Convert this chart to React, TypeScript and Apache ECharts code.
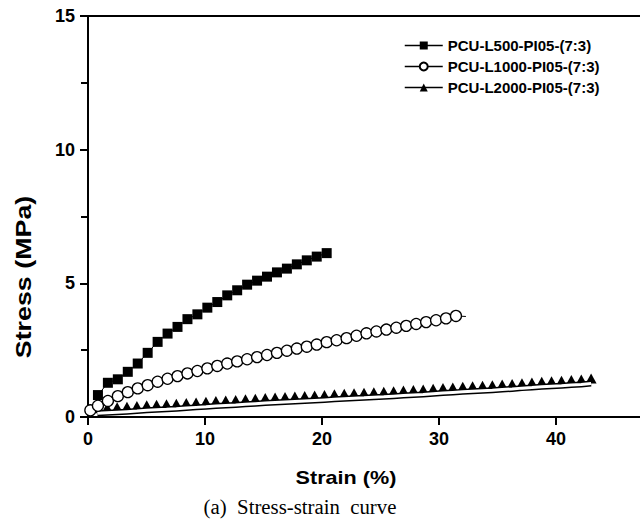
import React, { useEffect, useRef } from "react";
import * as echarts from "echarts";

const seriesNames = ["PCU-L500-PI05-(7:3)", "PCU-L1000-PI05-(7:3)", "PCU-L2000-PI05-(7:3)"];

const strainL500 = [0.85, 1.7, 2.55, 3.4, 4.25, 5.1, 5.95, 6.8, 7.65, 8.5, 9.35, 10.2, 11.05, 11.9, 12.75, 13.6, 14.45, 15.3, 16.15, 17.0, 17.85, 18.7, 19.55, 20.4];
const stressL500 = [0.82, 1.28, 1.41, 1.69, 2.0, 2.4, 2.81, 3.12, 3.37, 3.66, 3.84, 4.09, 4.3, 4.55, 4.74, 4.95, 5.1, 5.25, 5.41, 5.55, 5.71, 5.86, 6.0, 6.13];

const strainL1000 = [0.2, 0.85, 1.7, 2.55, 3.4, 4.25, 5.1, 5.95, 6.8, 7.65, 8.5, 9.35, 10.2, 11.05, 11.9, 12.75, 13.6, 14.45, 15.3, 16.15, 17.0, 17.85, 18.7, 19.55, 20.4, 21.25, 22.1, 22.95, 23.8, 24.65, 25.5, 26.35, 27.2, 28.05, 28.9, 29.75, 30.6, 31.45, 32.3];
const stressL1000 = [0.25, 0.42, 0.6, 0.78, 0.93, 1.07, 1.19, 1.32, 1.43, 1.53, 1.63, 1.72, 1.82, 1.91, 2.0, 2.08, 2.16, 2.24, 2.32, 2.4, 2.48, 2.56, 2.63, 2.71, 2.8, 2.87, 2.95, 3.04, 3.13, 3.2, 3.27, 3.34, 3.41, 3.48, 3.55, 3.62, 3.69, 3.78, 3.76];

const strainL2000 = [0.8, 1.64, 2.49, 3.33, 4.18, 5.02, 5.86, 6.71, 7.55, 8.4, 9.24, 10.08, 10.93, 11.77, 12.62, 13.46, 14.3, 15.15, 15.99, 16.84, 17.68, 18.52, 19.37, 20.21, 21.06, 21.9, 22.74, 23.59, 24.43, 25.28, 26.12, 26.96, 27.81, 28.65, 29.5, 30.34, 31.18, 32.03, 32.87, 33.72, 34.56, 35.4, 36.25, 37.09, 37.94, 38.78, 39.62, 40.47, 41.31, 42.16, 43.0];
const stressL2000 = [0.14, 0.16, 0.18, 0.2, 0.22, 0.25, 0.27, 0.29, 0.31, 0.34, 0.36, 0.38, 0.41, 0.43, 0.45, 0.48, 0.5, 0.52, 0.54, 0.56, 0.58, 0.6, 0.62, 0.64, 0.66, 0.68, 0.7, 0.72, 0.74, 0.76, 0.78, 0.8, 0.82, 0.84, 0.87, 0.9, 0.92, 0.94, 0.96, 0.98, 1.0, 1.03, 1.05, 1.08, 1.1, 1.13, 1.15, 1.17, 1.2, 1.22, 1.25];

const xTitle = "Strain (%)";
const yTitle = "Stress (MPa)";
const caption = "(a)  Stress-strain  curve";

const SANS = "Arial, 'Liberation Sans', sans-serif";
const SERIF = "'Times New Roman', 'Liberation Serif', serif";

const zip = (xs: number[], ys: number[]) => xs.map((x, i) => [x, ys[i]]);

export default function App() {
  const ref = useRef<HTMLDivElement>(null);
  useEffect(() => {
    if (!ref.current) return;
    const chart = echarts.init(ref.current, null, { renderer: "svg" });
    const l1000 = zip(strainL1000, stressL1000).map((p, i, arr) =>
      i === arr.length - 1 ? { value: p, symbol: "none" } : { value: p }
    );
    chart.setOption({
      animation: false,
      backgroundColor: "#fff",
      grid: {
        left: 88,
        top: 16,
        bottom: 108,
        right: -33,
        show: true,
        borderColor: "#000",
        borderWidth: 2,
        outerBoundsMode: "none",
        containLabel: false,
      },
      legend: {
        data: seriesNames,
        orient: "vertical",
        left: 404,
        top: 38,
        padding: 0,
        itemWidth: 38,
        itemHeight: 10,
        itemGap: 6,
        lineStyle: { width: 1.5, color: "#000" },
        textStyle: { fontFamily: SANS, fontWeight: "bold", fontSize: 15, color: "#000" },
      },
      xAxis: {
        type: "value",
        min: 0,
        max: 50,
        interval: 10,
        splitLine: { show: false },
        axisLine: { lineStyle: { color: "#000", width: 2 } },
        axisTick: { length: 8, lineStyle: { color: "#000", width: 2 } },
        axisLabel: { margin: 13, showMaxLabel: false, fontFamily: SANS, fontWeight: "bold", fontSize: 18, color: "#000" },
      },
      yAxis: {
        type: "value",
        min: 0,
        max: 15,
        interval: 5,
        splitLine: { show: false },
        axisLine: { show: true, lineStyle: { color: "#000", width: 2 } },
        axisTick: { show: true, length: 8, lineStyle: { color: "#000", width: 2 } },
        minorTick: { show: true, splitNumber: 2, length: 7, lineStyle: { color: "#000", width: 2 } },
        axisLabel: { margin: 13, fontFamily: SANS, fontWeight: "bold", fontSize: 18, color: "#000" },
      },
      graphic: [
        {
          type: "text",
          x: 23,
          y: 277,
          rotation: Math.PI / 2,
          scaleX: 1.22,
          style: {
            text: yTitle,
            font: `bold 22px ${SANS}`,
            fill: "#000",
            align: "center",
            verticalAlign: "middle",
            textAlign: "center",
            textVerticalAlign: "middle",
          },
        },
        {
          type: "text",
          x: 346,
          y: 478,
          scaleX: 1.2,
          style: {
            text: xTitle,
            font: `bold 18px ${SANS}`,
            fill: "#000",
            align: "center",
            verticalAlign: "middle",
            textAlign: "center",
            textVerticalAlign: "middle",
          },
        },
        {
          type: "text",
          x: 300,
          y: 507,
          scaleX: 1.04,
          style: {
            text: caption,
            font: `20px ${SERIF}`,
            fill: "#000",
            align: "center",
            verticalAlign: "middle",
            textAlign: "center",
            textVerticalAlign: "middle",
          },
        },
      ],
      series: [
        {
          name: seriesNames[0],
          type: "line",
          data: zip(strainL500, stressL500),
          symbol: "rect",
          symbolSize: 10,
          itemStyle: { color: "#000", borderColor: "#000", borderWidth: 0 },
          lineStyle: { color: "#000", width: 1 },
          z: 4,
        },
        {
          name: seriesNames[1],
          type: "line",
          data: l1000,
          symbol: "circle",
          symbolSize: 11,
          itemStyle: { color: "#fff", borderColor: "#000", borderWidth: 1.3 },
          lineStyle: { color: "#000", width: 1 },
          z: 4,
        },
        {
          name: seriesNames[2],
          type: "line",
          data: zip(strainL2000, stressL2000),
          symbol: "triangle",
          symbolSize: [11, 10],
          symbolOffset: [0, -5],
          itemStyle: { color: "#000", borderColor: "#000", borderWidth: 0 },
          lineStyle: { color: "#000", width: 6 },
          z: 2,
        },
        {
          type: "line",
          data: zip(strainL2000, stressL2000),
          symbol: "none",
          silent: true,
          lineStyle: { color: "#fff", width: 3 },
          z: 3,
        },
      ],
    });
    return () => chart.dispose();
  }, []);
  return <div ref={ref} style={{ width: 640, height: 525, position: "absolute", left: 0, top: 0 }} />;
}
